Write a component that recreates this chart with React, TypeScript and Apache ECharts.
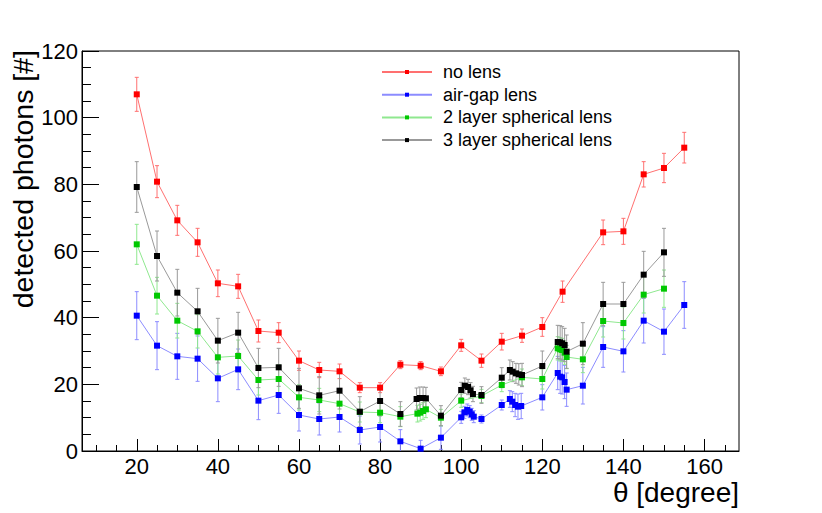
import React, { useEffect, useRef } from "react";
import * as echarts from "echarts";

const FONT = "'Liberation Sans', Arial, Helvetica, sans-serif";

// ---- tick values ----
const xMajorTicks = [20, 40, 60, 80, 100, 120, 140, 160];
const xMinorTicks = [10, 15, 25, 30, 35, 45, 50, 55, 65, 70, 75, 85, 90, 95, 105, 110, 115, 125, 130, 135, 145, 150, 155, 165];

// ---- no lens ----
const noLensX = [20, 25, 30, 35, 40, 45, 50, 55, 60, 65, 70, 75, 80, 85, 90, 95, 100, 105, 110, 115, 120, 125, 135, 140, 145, 150, 155];
const noLensY = [107.0, 80.8, 69.2, 62.6, 50.3, 49.4, 36.0, 35.5, 27.1, 24.3, 23.9, 19.0, 19.0, 25.9, 25.6, 23.9, 31.7, 27.1, 32.8, 34.6, 37.2, 47.8, 65.6, 65.9, 83.0, 84.9, 91.0];
const noLensErr = [5.1, 4.8, 4.5, 4.2, 4.0, 3.6, 3.3, 3.0, 2.9, 2.3, 2.2, 1.5, 1.5, 1.2, 1.2, 1.3, 1.8, 2.0, 2.5, 2.0, 2.8, 3.2, 3.7, 3.9, 3.8, 4.4, 4.6];

// ---- air-gap lens ----
const airGapX = [20, 25, 30, 35, 40, 45, 50, 55, 60, 65, 70, 75, 80, 85, 90, 95, 100, 100.8, 101.5, 102.1, 102.6, 103.1, 105, 110, 112, 112.6, 113.3, 114, 114.8, 120, 123.8, 124.4, 124.9, 125.5, 126, 130, 135, 140, 145, 150, 155];
const airGapY = [40.6, 31.6, 28.4, 27.7, 21.8, 24.5, 15.1, 16.8, 10.8, 9.6, 10.2, 6.3, 7.2, 2.9, 0.7, 4.0, 10.1, 11.6, 12.3, 11.8, 11.0, 10.3, 9.6, 13.8, 15.6, 14.8, 13.8, 13.3, 13.5, 16.1, 23.4, 22.3, 22.1, 20.7, 18.4, 19.6, 31.2, 29.9, 39.1, 35.8, 43.8];
const airGapErr = [7.2, 7.2, 6.9, 6.8, 7.0, 6.1, 5.7, 5.5, 4.8, 4.8, 4.5, 4.2, 4.5, 3.5, 2.5, 3.5, 1.8, 1.8, 1.8, 1.8, 1.8, 1.8, 1.2, 1.5, 2.5, 3.0, 3.5, 3.8, 3.8, 3.8, 5.0, 5.0, 5.0, 5.0, 5.0, 5.5, 6.1, 6.2, 6.7, 6.8, 7.0];

// ---- 2 layer spherical lens ----
const twoLayerX = [20, 25, 30, 35, 40, 45, 50, 55, 60, 65, 70, 75, 80, 85, 89.2, 89.9, 90.6, 91.3, 95, 100, 105, 110, 115, 120, 123.8, 124.4, 124.9, 125.5, 126, 130, 135, 140, 145, 150];
const twoLayerY = [62.0, 46.6, 39.1, 35.9, 28.1, 28.5, 21.3, 21.6, 16.1, 15.3, 14.2, 11.7, 11.5, 10.3, 11.2, 11.5, 12.0, 12.5, 10.0, 15.1, 16.5, 19.8, 22.1, 21.6, 30.8, 30.5, 30.3, 29.5, 28.2, 27.5, 39.0, 38.4, 46.9, 48.7];
const twoLayerErr = [6.0, 5.5, 5.2, 5.0, 5.0, 4.8, 4.5, 4.3, 3.8, 3.5, 3.3, 3.0, 3.0, 3.0, 2.5, 2.5, 2.5, 2.5, 2.5, 2.0, 2.0, 2.0, 2.5, 3.0, 3.5, 3.5, 3.5, 3.5, 3.5, 4.0, 4.8, 4.8, 5.5, 5.6];

// ---- 3 layer spherical lens ----
const threeLayerX = [20, 25, 30, 35, 40, 45, 50, 55, 60, 65, 70, 75, 80, 85, 89, 89.8, 90.6, 91.3, 95, 100, 100.9, 101.7, 102.3, 102.9, 105, 110, 112, 112.7, 113.5, 114.2, 115, 120, 123.8, 124.4, 124.9, 125.5, 126, 130, 135, 140, 145, 150];
const threeLayerY = [79.2, 58.5, 47.5, 41.9, 33.1, 35.5, 24.9, 25.1, 18.8, 16.7, 18.1, 11.8, 15.0, 11.1, 15.6, 15.9, 15.9, 15.8, 10.6, 18.3, 19.6, 19.2, 18.2, 17.1, 16.8, 22.0, 24.3, 23.8, 23.3, 23.0, 22.8, 25.5, 32.7, 32.6, 32.3, 31.8, 29.8, 32.2, 44.1, 44.1, 52.9, 59.6];
const threeLayerErr = [7.6, 7.5, 7.0, 6.9, 6.7, 6.1, 5.9, 5.7, 6.0, 5.6, 5.5, 4.5, 4.5, 3.7, 3.3, 3.3, 3.3, 3.3, 3.0, 2.3, 2.3, 2.3, 2.3, 2.3, 2.5, 3.0, 3.0, 3.0, 3.0, 3.2, 3.5, 4.5, 5.0, 5.0, 5.0, 5.0, 5.0, 6.3, 6.5, 6.5, 7.0, 7.2];

const seriesDefs = [
  { name: "no lens", xs: noLensX, ys: noLensY, es: noLensErr, marker: "#ff0000", line: "#ff7070" },
  { name: "air-gap lens", xs: airGapX, ys: airGapY, es: airGapErr, marker: "#0000ff", line: "#8c8cff" },
  { name: "2 layer spherical lens", xs: twoLayerX, ys: twoLayerY, es: twoLayerErr, marker: "#00c800", line: "#8fe88f" },
  { name: "3 layer spherical lens", xs: threeLayerX, ys: threeLayerY, es: threeLayerErr, marker: "#000000", line: "#999999" },
];

function buildSeries() {
  const out: any[] = [];
  seriesDefs.forEach((d) => {
    out.push({
      type: "custom",
      name: d.name + " (err)",
      clip: true,
      silent: true,
      encode: { x: 0, y: 1 },
      data: d.xs.map((x, i) => [x, d.ys[i], d.es[i]]),
      renderItem: (params: any, api: any) => {
        const x = api.value(0);
        const y = api.value(1);
        const e = api.value(2);
        const top = api.coord([x, y + e]);
        const bot = api.coord([x, y - e]);
        const cw = 2;
        const st = { stroke: d.line, lineWidth: 1 };
        return {
          type: "group",
          children: [
            { type: "line", shape: { x1: top[0], y1: top[1], x2: bot[0], y2: bot[1] }, style: st },
            { type: "line", shape: { x1: top[0] - cw, y1: top[1], x2: top[0] + cw, y2: top[1] }, style: st },
            { type: "line", shape: { x1: bot[0] - cw, y1: bot[1], x2: bot[0] + cw, y2: bot[1] }, style: st },
          ],
        };
      },
    });
    out.push({
      type: "line",
      name: d.name,
      data: d.xs.map((x, i) => [x, d.ys[i]]),
      symbol: "rect",
      symbolSize: 6,
      showSymbol: true,
      showAllSymbol: true,
      lineStyle: { color: d.line, width: 1 },
      itemStyle: { color: d.marker },
      emphasis: { disabled: true },
    });
  });
  return out;
}

export default function App() {
  const ref = useRef<HTMLDivElement>(null);
  useEffect(() => {
    if (!ref.current) return;
    const chart = echarts.init(ref.current, undefined, { renderer: "svg" });
    const labelStyle = { fontSize: 22, lineHeight: 18, fontFamily: FONT, color: "#000" };
    chart.setOption({
      animation: false,
      backgroundColor: "#fff",
      grid: {
        left: 82,
        top: 51,
        right: 83,
        bottom: 62,
        show: true,
        borderColor: "#000",
        borderWidth: 1,
        containLabel: false,
        outerBoundsMode: "none",
      },
      legend: {
        data: seriesDefs.map((d) => d.name),
        orient: "vertical",
        left: 376,
        top: 58,
        itemWidth: 50,
        itemHeight: 5,
        itemGap: 4.7,
        selectedMode: false,
        textStyle: { fontSize: 18, lineHeight: 18, fontFamily: FONT, color: "#000", padding: [0, 0, 0, 6] },
      },
      xAxis: [
        {
          type: "value",
          min: 6.5,
          max: 168.5,
          position: "bottom",
          axisLine: { show: true, onZero: false, lineStyle: { color: "#000", width: 1 } },
          axisTick: { show: true, inside: true, length: 12, customValues: xMajorTicks, lineStyle: { color: "#000", width: 1 } },
          axisLabel: { ...labelStyle, margin: 6, customValues: xMajorTicks },
          splitLine: { show: false },
        },
        {
          type: "value",
          min: 6.5,
          max: 168.5,
          position: "bottom",
          axisLine: { show: false },
          axisTick: { show: true, inside: true, length: 6, customValues: xMinorTicks, lineStyle: { color: "#000", width: 1 } },
          axisLabel: { show: false },
          splitLine: { show: false },
        },
      ],
      yAxis: {
        type: "value",
        min: 0,
        max: 120,
        interval: 20,
        axisLine: { show: true, onZero: false, lineStyle: { color: "#000", width: 1 } },
        axisTick: { show: true, inside: true, length: 17, lineStyle: { color: "#000", width: 1 } },
        minorTick: { show: true, splitNumber: 4, length: 9, lineStyle: { color: "#000", width: 1 } },
        axisLabel: { ...labelStyle, margin: 4 },
        splitLine: { show: false },
        minorSplitLine: { show: false },
      },
      graphic: [
        {
          type: "text",
          x: 739,
          y: 492,
          silent: true,
          style: {
            text: "θ [degree]",
            fontSize: 28,
            lineHeight: 22,
            fontFamily: FONT,
            fill: "#000",
            align: "right",
            verticalAlign: "middle",
            textAlign: "right",
            textVerticalAlign: "middle",
          },
        },
        {
          type: "text",
          x: 22.5,
          y: 50,
          rotation: Math.PI / 2,
          silent: true,
          style: {
            text: "detected photons [#]",
            fontSize: 28.5,
            fontFamily: FONT,
            fill: "#000",
            align: "right",
            verticalAlign: "middle",
            textAlign: "right",
            textVerticalAlign: "middle",
          },
        },
      ],
      series: buildSeries(),
    });
    return () => chart.dispose();
  }, []);
  return <div ref={ref} style={{ position: "fixed", left: 0, top: 0, width: 822, height: 513 }} />;
}
